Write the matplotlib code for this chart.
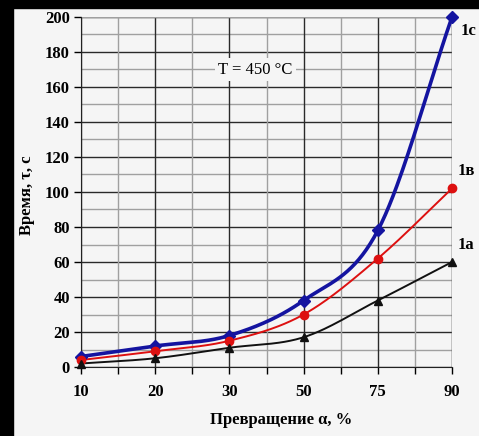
import numpy as np
import matplotlib
matplotlib.use("Agg")
import matplotlib.pyplot as plt
from matplotlib.patches import Rectangle

categories = ["10", "20", "30", "50", "75", "90"]
series_1c = [6, 12, 18, 38, 78, 200]
series_1v = [4, 9, 15, 30, 62, 102]
series_1a = [2, 5, 11, 17, 38, 60]
labels = ["1c", "1в", "1a"]

plt.rcParams['font.family'] = ['Liberation Serif', 'DejaVu Serif']

def catmull(xs, ys, n=40):
    xs = np.asarray(xs, float); ys = np.asarray(ys, float)
    sx = xs / (len(xs) - 1); sy = ys / 200.0
    P = np.column_stack([sx, sy])
    P = np.vstack([P[0] - (P[1] - P[0]), P, P[-1] + (P[-1] - P[-2])])
    out = []
    for i in range(1, len(P) - 2):
        p0, p1, p2, p3 = P[i-1], P[i], P[i+1], P[i+2]
        t = np.linspace(0, 1, n)[:, None]
        seg = 0.5 * ((2*p1) + (-p0 + p2)*t + (2*p0 - 5*p1 + 4*p2 - p3)*t**2 + (-p0 + 3*p1 - 3*p2 + p3)*t**3)
        out.append(seg if i == 1 else seg[1:])
    out = np.vstack(out)
    return out[:, 0] * (len(xs) - 1), out[:, 1] * 200.0

fig = plt.figure(figsize=(4.79, 4.36), dpi=100, facecolor='#f5f5f5')
ax = fig.add_axes([81/479, 1-367/436, (452-81)/479, 350/436])
ax.set_facecolor('#f5f5f5')

x = np.arange(len(categories))
ax.set_xlim(0, len(categories) - 1)
ax.set_ylim(0, 200)

for v in range(0, 201, 10):
    if v % 20 == 0:
        ax.axhline(v, color='#2a2a2a', lw=1.0, zorder=1)
    else:
        ax.axhline(v, color='#a0a0a0', lw=1.0, zorder=1)
for i in range(len(categories)):
    ax.axvline(i, color='#2a2a2a', lw=1.0, zorder=1)
for i in range(len(categories) - 1):
    ax.axvline(i + 0.5, color='#a0a0a0', lw=1.0, zorder=1)
ax.axvline(len(categories) - 1, color='#a0a0a0', lw=1.0, zorder=1)
ax.axhline(200, color='#a0a0a0', lw=1.0, zorder=1)

specs = [
    (series_1c, '#1414a0', 2.6, 'D', 6),
    (series_1v, '#dd1010', 1.4, 'o', 6),
    (series_1a, '#111111', 1.4, '^', 6),
]
for ys, c, lw, m, ms in specs:
    sx, sy = catmull(x, ys)
    ax.plot(sx, sy, color=c, lw=lw, zorder=3, clip_on=False)
    ax.plot(x, ys, ls='none', marker=m, color=c, ms=ms, zorder=4, clip_on=False)

for s in ['top', 'right']:
    ax.spines[s].set_visible(False)
ax.spines['left'].set_color('#222222')
ax.spines['bottom'].set_color('#222222')

ax.set_xticks(x)
ax.set_xticklabels(categories, fontsize=12, fontweight='bold')
ax.set_xticks(x[:-1] + 0.5, minor=True)
ax.set_yticks(range(0, 201, 20))
ax.set_yticklabels([str(v) for v in range(0, 201, 20)], fontsize=12, fontweight='bold')
ax.tick_params(axis='x', which='both', direction='out', length=5, width=1, pad=7)
ax.tick_params(axis='y', which='major', direction='out', length=5, width=1, pad=3)

ax.text(2.35, 170, "T = 450 °C", fontsize=12, ha='center', va='center', zorder=5,
        bbox=dict(boxstyle='square,pad=0.2', facecolor='#f5f5f5', edgecolor='none'))

fig.text(461/479, 1-31/436, labels[0], fontsize=12, fontweight='bold', ha='left', va='center')
fig.text(458/479, 1-171/436, labels[1], fontsize=12, fontweight='bold', ha='left', va='center')
fig.text(458/479, 1-245/436, labels[2], fontsize=12, fontweight='bold', ha='left', va='center')

fig.text(27/479, 1-195/436, "Время, τ, с", fontsize=12, fontweight='bold', rotation=90,
         ha='center', va='center')
fig.text(281/479, 1-420/436, "Превращение α, %", fontsize=12, fontweight='bold',
         ha='center', va='center')

fig.patches.append(Rectangle((0, 0), 13/479, 1, transform=fig.transFigure, color='black', zorder=10))
fig.patches.append(Rectangle((0, 1-8/436), 1, 8/436, transform=fig.transFigure, color='black', zorder=10))

fig.savefig("out.png", dpi=100, facecolor=fig.get_facecolor())
